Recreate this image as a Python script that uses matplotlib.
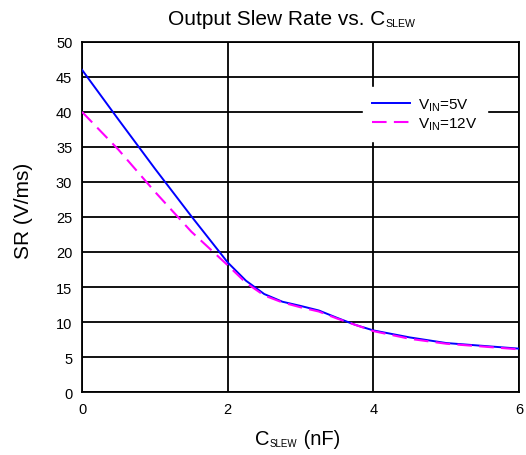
import matplotlib
matplotlib.use("Agg")
import matplotlib.pyplot as plt

plt.rcParams['font.family'] = ['Liberation Sans', 'DejaVu Sans']
plt.rcParams['mathtext.fontset'] = 'custom'
plt.rcParams['mathtext.rm'] = 'Liberation Sans'
plt.rcParams['mathtext.it'] = 'Liberation Sans:italic'

# C_SLEW in nF
c_slew = [0, 0.5, 1.0, 1.5, 2.0, 2.25, 2.5, 2.75, 3.0, 3.25, 3.5, 3.75, 4.0, 4.5, 5.0, 5.5, 6.0]
# slew rate in V/ms
sr_5v = [46.0, 38.9, 31.9, 25.1, 18.5, 15.9, 14.0, 12.9, 12.3, 11.65, 10.6, 9.6, 8.8, 7.8, 7.0, 6.6, 6.2]
sr_12v = [40.0, 34.6, 28.6, 22.9, 18.1, 15.6, 13.8, 12.8, 12.1, 11.5, 10.5, 9.6, 8.7, 7.6, 6.9, 6.5, 6.1]

xticks = [0, 2, 4, 6]
yticks = list(range(0, 51, 5))

fig = plt.figure(figsize=(5.26, 4.56), dpi=100)
ax = fig.add_axes([0.156, 0.138, 0.831, 0.768])

ax.plot(c_slew, sr_5v, color='#0000FF', lw=1.4, label=r'V$\mathregular{_{IN}}$=5V', zorder=3)
ax.plot(c_slew, sr_12v, color='#FF00FF', lw=1.5, dashes=(7, 3.5),
        label=r'V$\mathregular{_{IN}}$=12V', zorder=3)

ax.set_xlim(0, 6)
ax.set_ylim(0, 50)
ax.set_xticks(xticks)
ax.set_yticks(yticks)
ax.tick_params(length=0, labelsize=10.5, pad=7)
ax.grid(True, color='black', lw=1.3)
for s in ax.spines.values():
    s.set_linewidth(1.3)

# title and x label with small subscripts, put together piece by piece
t = fig.text(0.732, 0.945, 'Output Slew Rate vs. C', fontsize=15, ha='right', va='baseline')
fig.add_artist(plt.Annotation('SLEW', xy=(1, 0), xycoords=t, xytext=(0.5, 0),
                              textcoords='offset points', fontsize=7.6, va='bottom'))

xl = fig.text(0.485, 0.024, 'C', fontsize=14.5, ha='left', va='baseline')
xs = fig.add_artist(plt.Annotation('SLEW', xy=(1, 0), xycoords=xl, xytext=(0.3, 0),
                                   textcoords='offset points', fontsize=7, va='bottom'))
fig.add_artist(plt.Annotation(' (nF)', xy=(1, 0), xycoords=xs, xytext=(0, 0),
                              textcoords='offset points', fontsize=14.5, va='bottom'))

ax.set_ylabel('SR (V/ms)', fontsize=15)
ax.yaxis.set_label_coords(-0.112, 0.519)

leg = ax.legend(loc='upper left', bbox_to_anchor=(0.643, 0.871), borderaxespad=0,
                fontsize=11, frameon=True, fancybox=False, framealpha=1,
                edgecolor='white', handlelength=2.5, handletextpad=0.5,
                borderpad=0.6, labelspacing=0.2)
leg.set_zorder(5)

fig.savefig('out.png', dpi=100)
